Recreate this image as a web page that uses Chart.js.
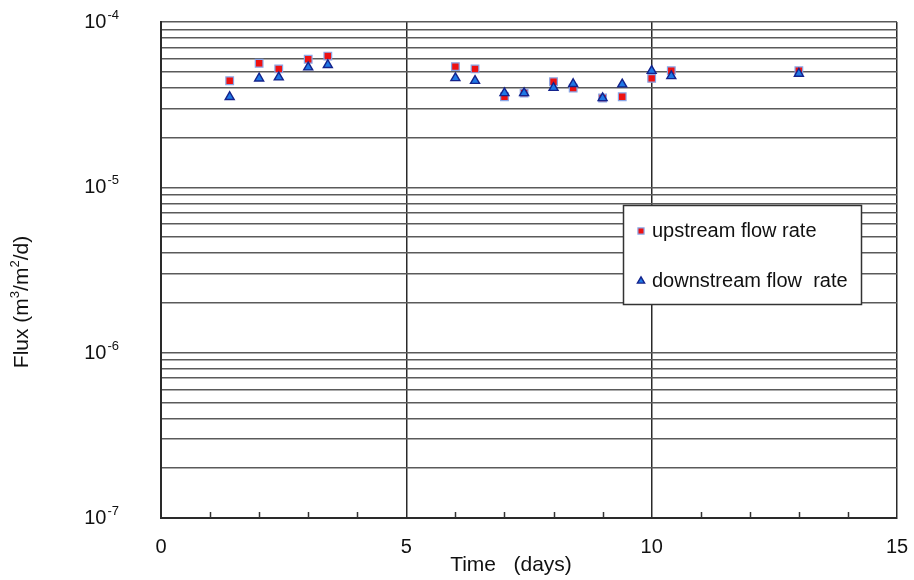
<!DOCTYPE html>
<html>
<head>
<meta charset="utf-8">
<script src="https://cdn.jsdelivr.net/npm/chart.js@4/dist/chart.umd.min.js"></script>
<style>
  html, body { margin: 0; padding: 0; background: #fff; }
  #wrap { width: 914px; height: 580px; }
</style>
</head>
<body>
<div id="wrap"><canvas id="c" width="914" height="580"></canvas></div>
<script>
// Measurement times (days)
const days = [1.4, 2.0, 2.4, 3.0, 3.4, 6.0, 6.4, 7.0, 7.4, 8.0, 8.4, 9.0, 9.4, 10.0, 10.4, 13.0];
// Flux, m3/m2/d
const upstream   = [4.41e-5, 5.63e-5, 5.20e-5, 5.95e-5, 6.22e-5, 5.37e-5, 5.20e-5, 3.53e-5, 3.72e-5, 4.35e-5, 3.98e-5, 3.47e-5, 3.53e-5, 4.56e-5, 5.07e-5, 5.07e-5];
const downstream = [3.52e-5, 4.56e-5, 4.63e-5, 5.32e-5, 5.50e-5, 4.58e-5, 4.41e-5, 3.72e-5, 3.72e-5, 4.00e-5, 4.22e-5, 3.47e-5, 4.20e-5, 5.07e-5, 4.71e-5, 4.87e-5];

const seriesLabels = ['upstream flow rate', 'downstream flow  rate'];
const xTickValues = [0, 5, 10, 15];
const yDecadeExponents = [-7, -6, -5, -4];
const xTitle = 'Time   (days)';
// Y title pieces: [text, isSuperscript]
const yTitleParts = [['Flux (m', false], ['3', true], ['/m', false], ['2', true], ['/d)', false]];

const FONT = '"Liberation Sans", Arial, Helvetica, sans-serif';

const upStyle = { pointStyle: 'rect', pointRadius: 5.4, backgroundColor: '#ee1111', borderColor: '#8aa6e6', borderWidth: 1.2 };
const downStyle = { pointStyle: 'triangle', pointRadius: 5.2, backgroundColor: '#1f78e6', borderColor: '#14238c', borderWidth: 1.4 };

const toPoints = (xs, ys) => xs.map((x, i) => ({ x: x, y: ys[i] }));

// Superscript decade labels on the log axis
const yLabelPlugin = {
  id: 'yLabels',
  afterDraw(chart) {
    const ctx = chart.ctx, ys = chart.scales.y;
    ctx.save();
    ctx.fillStyle = '#111';
    ctx.textBaseline = 'middle';
    ctx.textAlign = 'left';
    yDecadeExponents.forEach(e => {
      const y = ys.getPixelForValue(Math.pow(10, e));
      const exp = String(e);
      ctx.font = '20px ' + FONT;
      const wBase = ctx.measureText('10').width;
      ctx.font = '13px ' + FONT;
      const wExp = ctx.measureText(exp).width;
      const right = 119;
      const x0 = right - wBase - wExp - 1;
      ctx.font = '20px ' + FONT;
      ctx.fillText('10', x0, y + 0.5);
      ctx.font = '13px ' + FONT;
      ctx.fillText(exp, x0 + wBase + 1, y - 6.5);
    });
    ctx.restore();
  }
};

// Small inward ticks at every day along the bottom axis
const minorTickPlugin = {
  id: 'minorTicks',
  afterDraw(chart) {
    const ctx = chart.ctx, xs = chart.scales.x, bottom = chart.chartArea.bottom;
    ctx.save();
    ctx.strokeStyle = '#333';
    ctx.lineWidth = 1.5;
    for (let v = 1; v < 15; v++) {
      if (v % 5 === 0) continue;
      const x = Math.round(xs.getPixelForValue(v)) + 0.5;
      ctx.beginPath();
      ctx.moveTo(x, bottom);
      ctx.lineTo(x, bottom - 6);
      ctx.stroke();
    }
    ctx.restore();
  }
};

// Axis titles
const titlePlugin = {
  id: 'axisTitles',
  afterDraw(chart) {
    const ctx = chart.ctx;
    ctx.save();
    ctx.fillStyle = '#111';
    ctx.font = '21px ' + FONT;
    ctx.textAlign = 'center';
    ctx.textBaseline = 'middle';
    ctx.fillText(xTitle, 511, 565);

    // rotated y title with raised exponents
    const mainFont = '21px ' + FONT, supFont = '13px ' + FONT;
    let total = 0;
    yTitleParts.forEach(([t, sup]) => {
      ctx.font = sup ? supFont : mainFont;
      total += ctx.measureText(t).width;
    });
    ctx.translate(22, 302);
    ctx.rotate(-Math.PI / 2);
    ctx.textAlign = 'left';
    let x = -total / 2;
    yTitleParts.forEach(([t, sup]) => {
      ctx.font = sup ? supFont : mainFont;
      ctx.fillText(t, x, sup ? -7 : 0);
      x += ctx.measureText(t).width;
    });
    ctx.restore();
  }
};

// Boxed legend inside the plot
const legendBoxPlugin = {
  id: 'legendBox',
  afterDraw(chart) {
    const ctx = chart.ctx;
    const box = { x: 623, y: 205, w: 238, h: 99 };
    ctx.save();
    ctx.fillStyle = '#fff';
    ctx.fillRect(box.x, box.y, box.w, box.h);
    ctx.strokeStyle = '#333';
    ctx.lineWidth = 1.5;
    ctx.strokeRect(box.x + 0.5, box.y + 0.5, box.w, box.h);
    const rows = [
      { style: upStyle, label: chart.data.datasets[1].label, y: 231 },
      { style: downStyle, label: chart.data.datasets[0].label, y: 281 }
    ];
    rows.forEach(r => {
      ctx.fillStyle = r.style.backgroundColor;
      ctx.strokeStyle = r.style.borderColor;
      ctx.lineWidth = r.style.borderWidth;
      Chart.helpers.drawPoint(ctx, { pointStyle: r.style.pointStyle, radius: r.style.pointRadius * 0.8, borderWidth: r.style.borderWidth }, 641, r.y);
      ctx.fillStyle = '#111';
      ctx.font = '20px ' + FONT;
      ctx.textAlign = 'left';
      ctx.textBaseline = 'middle';
      ctx.fillText(r.label, 652, r.y);
    });
    ctx.restore();
  }
};

new Chart(document.getElementById('c'), {
  type: 'scatter',
  data: {
    datasets: [
      Object.assign({ label: seriesLabels[1], data: toPoints(days, downstream), order: 0 }, downStyle),
      Object.assign({ label: seriesLabels[0], data: toPoints(days, upstream), order: 1 }, upStyle)
    ]
  },
  options: {
    responsive: false,
    animation: false,
    devicePixelRatio: 1,
    layout: { padding: { left: 0, right: 17, top: 22, bottom: 0 } },
    plugins: { legend: { display: false }, tooltip: { enabled: false } },
    scales: {
      x: {
        type: 'linear',
        min: 0,
        max: 15,
        afterBuildTicks(scale) {
          const t = [];
          for (let v = 0; v <= 15; v++) t.push({ value: v });
          scale.ticks = t;
        },
        afterFit(scale) {
          scale.height = 62;
          scale.paddingLeft = 0;
          scale.paddingRight = 0;
        },
        grid: {
          drawTicks: false,
          lineWidth: 1.5,
          color: ctx => (xTickValues.includes(ctx.tick.value) ? '#2a2a2a' : 'rgba(0,0,0,0)')
        },
        border: { display: true, color: '#2a2a2a', width: 2 },
        ticks: {
          autoSkip: false,
          maxRotation: 0,
          padding: 17,
          color: '#111',
          font: { family: FONT, size: 20 },
          callback: v => (xTickValues.includes(v) ? String(v) : '')
        }
      },
      y: {
        type: 'logarithmic',
        min: 1e-7,
        max: 1e-4,
        afterBuildTicks(scale) {
          const t = [];
          for (let e = -7; e < -4; e++) {
            for (let m = 1; m <= 9; m++) t.push({ value: m * Math.pow(10, e) });
          }
          t.push({ value: 1e-4 });
          scale.ticks = t;
        },
        afterFit(scale) {
          scale.width = 161;
          scale.paddingTop = 0;
          scale.paddingBottom = 0;
        },
        grid: { drawTicks: false, lineWidth: 1.6, color: '#5a5a5a' },
        border: { display: true, color: '#2a2a2a', width: 2 },
        ticks: { display: false }
      }
    }
  },
  plugins: [yLabelPlugin, minorTickPlugin, titlePlugin, legendBoxPlugin]
});
</script>
</body>
</html>
